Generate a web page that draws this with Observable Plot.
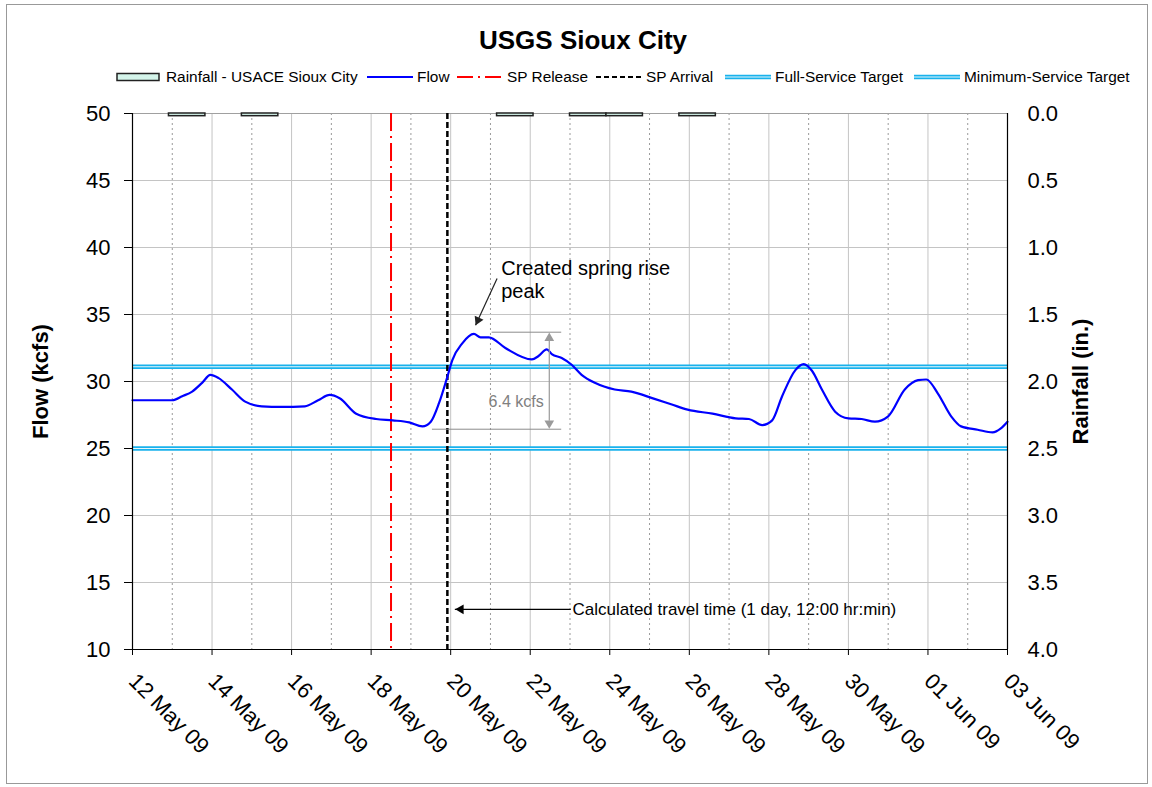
<!DOCTYPE html>
<html><head><meta charset="utf-8">
<script src="https://cdn.jsdelivr.net/npm/d3@7"></script>
<script src="https://cdn.jsdelivr.net/npm/@observablehq/plot@0.6"></script>
<style>
body{margin:0;background:#fff;font-family:"Liberation Sans",Arial,sans-serif;color:#000;}
#wrap{position:relative;width:1152px;height:787px;overflow:hidden;background:#fff;}
#border{position:absolute;left:6px;top:4px;width:1140px;height:778px;border:1px solid #999;pointer-events:none;}
#title{height:55px;box-sizing:border-box;padding-top:25px;padding-left:14px;line-height:30px;text-align:center;font-weight:bold;font-size:26px;}
#legend{position:relative;height:44px;font-size:15.4px;}
.item{position:absolute;top:0;height:44px;display:flex;align-items:center;white-space:nowrap;}
.item svg{margin-right:4px;}
#chart svg{display:block;}
</style></head>
<body>
<div id="wrap">
  <div id="title">USGS Sioux City</div>
  <div id="legend"></div>
  <div id="chart"></div>
  <div id="border"></div>
</div>
<script>
// ---------- data ----------
const flowTimes = [
 "2009-05-12 00:00","2009-05-12 02:00","2009-05-13 00:00","2009-05-13 06:00","2009-05-13 12:00",
 "2009-05-13 18:00","2009-05-13 23:00","2009-05-14 04:00","2009-05-14 12:00","2009-05-14 20:00",
 "2009-05-15 06:00","2009-05-15 18:00","2009-05-16 08:00","2009-05-16 16:00","2009-05-16 23:00",
 "2009-05-17 05:00","2009-05-17 15:00","2009-05-18 03:00","2009-05-18 13:00","2009-05-18 23:00",
 "2009-05-19 07:00","2009-05-19 12:00","2009-05-19 17:00","2009-05-19 22:00","2009-05-20 01:00",
 "2009-05-20 07:00","2009-05-20 14:00","2009-05-20 18:00","2009-05-20 23:00","2009-05-21 09:00",
 "2009-05-22 01:00","2009-05-22 05:00","2009-05-22 10:00","2009-05-22 13:00","2009-05-22 19:00",
 "2009-05-23 01:00","2009-05-23 07:00","2009-05-23 15:00","2009-05-24 03:00","2009-05-24 13:00",
 "2009-05-25 03:00","2009-05-25 13:00","2009-05-25 23:00","2009-05-26 14:00","2009-05-27 04:00",
 "2009-05-27 12:00","2009-05-27 20:00","2009-05-28 02:00","2009-05-28 08:00","2009-05-28 16:00",
 "2009-05-28 21:00","2009-05-29 02:00","2009-05-29 08:00","2009-05-29 16:00","2009-05-30 00:00",
 "2009-05-30 08:00","2009-05-30 16:00","2009-05-31 00:00","2009-05-31 10:00","2009-05-31 18:00",
 "2009-05-31 23:00","2009-06-01 06:00","2009-06-01 14:00","2009-06-01 20:00","2009-06-02 06:00",
 "2009-06-02 15:00","2009-06-02 20:00","2009-06-03 00:00"
];
const flowValues = [
 28.6,28.6,28.6,28.9,29.25,
 29.9,30.5,30.25,29.4,28.5,
 28.15,28.1,28.15,28.6,29.0,
 28.75,27.6,27.2,27.1,26.95,
 26.65,27.0,28.4,30.35,31.6,
 32.85,33.55,33.3,33.3,32.5,
 31.65,31.9,32.4,32.05,31.75,
 31.25,30.5,29.9,29.4,29.25,
 28.7,28.3,27.9,27.6,27.25,
 27.2,26.75,27.1,28.9,30.85,
 31.3,30.8,29.4,27.75,27.25,
 27.2,27.0,27.4,29.4,30.1,
 30.15,29.1,27.4,26.65,26.4,
 26.2,26.5,27.0
];
const rainDates  = ["2009-05-13","2009-05-15","2009-05-22","2009-05-24","2009-05-25","2009-05-27"];
const rainValues = [0.02,0.02,0.02,0.02,0.02,0.02];
const rainCategoryCount = 24; // secondary category axis (daily), 12 May .. 04 Jun

const eventNames = ["SP Release","SP Arrival"];
const eventTimes = ["2009-05-18 12:00","2009-05-19 22:00"];
const targetNames  = ["Full-Service Target","Minimum-Service Target"];
const targetValues = [31.1, 25];

const xTickDates = ["2009-05-12","2009-05-14","2009-05-16","2009-05-18","2009-05-20","2009-05-22",
                    "2009-05-24","2009-05-26","2009-05-28","2009-05-30","2009-06-01","2009-06-03"];
const flowTicks = [10,15,20,25,30,35,40,45,50];
const rainTickLabels = ["4.0","3.5","3.0","2.5","2.0","1.5","1.0","0.5","0.0"];

// annotations (data units)
const peakNote   = {text:"Created spring rise\npeak", date:"2009-05-21 06:30", value:37.63};
const peakArrow  = {from:["2009-05-21 04:00",37.69], to:["2009-05-20 15:00",34.2]};
const rangeTop   = 33.68, rangeBottom = 26.44;
const rangeTopX  = ["2009-05-21 01:00","2009-05-22 19:00"];
const rangeBotX  = ["2009-05-19 13:00","2009-05-22 19:00"];
const rangeArrowX = "2009-05-22 11:30";
const rangeNote  = {text:"6.4 kcfs", date:"2009-05-21 15:30", value:28.5};
const travelNote = {text:"Calculated travel time (1 day, 12:00 hr:min)", date:"2009-05-23 01:30", value:13.0};
const travelArrow = {from:"2009-05-23 00:30", to:"2009-05-20 02:30", value:13.0};

// ---------- derived ----------
const parse = d3.utcParse("%Y-%m-%d %H:%M");
const pDay = s => parse(s + " 00:00");
const flow = flowTimes.map((t,i)=>({date:parse(t), value:flowValues[i]}));
const start = pDay(xTickDates[0]), end = pDay(xTickDates[xTickDates.length-1]);
const DAY = 864e5, span = end - start;
const rainToFlow = r => 50 - r*10; // secondary axis: 0 in at 50 kcfs, 4 in at 10 kcfs
const rain = rainDates.map((d,i)=>{
  const idx = Math.round((pDay(d)-start)/DAY);
  return {x1:new Date(+start + idx*span/rainCategoryCount), x2:new Date(+start+(idx+1)*span/rainCategoryCount), y2:rainToFlow(rainValues[i])};
});
const allDays = d3.utcDay.range(start, new Date(+end+1));
const minorDays = allDays.filter((d,i)=>i%2===1);
const majorDays = allDays.filter((d,i)=>i%2===0 && i>0 && i<allDays.length-1);
const xTicks = xTickDates.map(pDay);
const events = eventTimes.map((t,i)=>({name:eventNames[i], date:parse(t)}));

const font = "Liberation Sans, Arial, sans-serif";
const chart = Plot.plot({
  width:1152, height:688,
  marginLeft:132, marginRight:145, marginTop:14, marginBottom:138,
  style:{fontFamily:font, background:"transparent", color:"#000"},
  x:{type:"utc", domain:[start,end]},
  y:{domain:[10,50]},
  marks:[
    Plot.ruleX(minorDays, {stroke:"#9a9a9a", strokeDasharray:"2,3", strokeWidth:1}),
    Plot.ruleX(majorDays, {stroke:"#c4c4c4", strokeWidth:1}),
    Plot.ruleY(flowTicks.filter(v=>v>10 && v<50), {stroke:"#c4c4c4", strokeWidth:1}),
    Plot.ruleY([50], {stroke:"#a0a0a0", strokeWidth:1}),
    // targets
    Plot.ruleY(targetValues, {stroke:"#19b2ec", strokeWidth:4.5}),
    Plot.ruleY(targetValues, {stroke:"#e6f7fd", strokeWidth:1}),
    // rainfall bars
    Plot.rect(rain, {x1:"x1", x2:"x2", y1:()=>50, y2:"y2", fill:"#d4f4ea", stroke:"#222", strokeWidth:1.5}),
    // SP events
    Plot.ruleX(events.filter(e=>e.name==="SP Release"), {x:"date", stroke:"#ff0000", strokeWidth:2, strokeDasharray:"18,5,2,5"}),
    Plot.ruleX(events.filter(e=>e.name==="SP Arrival"), {x:"date", stroke:"#000", strokeWidth:2.5, strokeDasharray:"6,3"}),
    // flow
    Plot.line(flow, {x:"date", y:"value", stroke:"#0000ff", strokeWidth:2.2, curve:"monotone-x"}),
    // frame
    Plot.ruleX([start], {stroke:"#000", strokeWidth:1.2}),
    Plot.ruleX([end], {stroke:"#000", strokeWidth:1.2}),
    Plot.ruleY([10], {stroke:"#000", strokeWidth:1.2}),
    // peak annotation
    Plot.text([peakNote], {x:d=>parse(d.date), y:"value", text:"text", textAnchor:"start", lineAnchor:"middle", lineHeight:1.15, fontSize:20, fill:"#000"}),
    Plot.link([peakArrow], {x1:d=>parse(d.from[0]), y1:d=>d.from[1], x2:d=>parse(d.to[0]), y2:d=>d.to[1], stroke:"#222", strokeWidth:1.2}),
    Plot.dot([peakArrow], {x:d=>parse(d.to[0]), y:d=>d.to[1], symbol:"triangle", r:3.6, rotate:205, dx:2.4, dy:-5, fill:"#222", stroke:"none"}),
    // range measurement
    Plot.ruleY([rangeTop], {x1:()=>parse(rangeTopX[0]), x2:()=>parse(rangeTopX[1]), stroke:"#8c8c8c", strokeWidth:1}),
    Plot.ruleY([rangeBottom], {x1:()=>parse(rangeBotX[0]), x2:()=>parse(rangeBotX[1]), stroke:"#8c8c8c", strokeWidth:1}),
    Plot.ruleX([parse(rangeArrowX)], {y1:rangeBottom+0.6, y2:rangeTop-0.6, stroke:"#9a9a9a", strokeWidth:1.2}),
    Plot.dot([rangeTop], {x:()=>parse(rangeArrowX), y:d=>d, symbol:"triangle", r:3.6, rotate:0, dy:6, fill:"#9a9a9a", stroke:"none"}),
    Plot.dot([rangeBottom], {x:()=>parse(rangeArrowX), y:d=>d, symbol:"triangle", r:3.6, rotate:180, dy:-6, fill:"#9a9a9a", stroke:"none"}),
    Plot.text([rangeNote], {x:d=>parse(d.date), y:"value", text:"text", textAnchor:"middle", fontSize:16, fill:"#808080"}),
    // travel time
    Plot.link([travelArrow], {x1:d=>parse(d.from), x2:d=>parse(d.to), y1:"value", y2:"value", stroke:"#000", strokeWidth:1.2}),
    Plot.dot([travelArrow], {x:d=>parse(d.to), y:"value", symbol:"triangle", r:3.6, rotate:-90, dx:6, fill:"#000", stroke:"none"}),
    Plot.text([travelNote], {x:d=>parse(d.date), y:"value", text:"text", textAnchor:"start", fontSize:17, fill:"#000"}),
    // axes
    Plot.axisX({ticks:xTicks, tickFormat:d3.utcFormat("%d %b %y"), tickRotate:45, tickSize:6, tickPadding:22, fontSize:22, label:null}),
    Plot.axisY({ticks:flowTicks, tickSize:8, tickPadding:14, fontSize:22, label:null}),
    Plot.axisY({anchor:"right", ticks:flowTicks, tickFormat:d=>rainTickLabels[flowTicks.indexOf(d)], tickSize:0, tickPadding:20, fontSize:22, label:null}),
    Plot.text(["Flow (kcfs)"], {frameAnchor:"left", dx:-92, rotate:-90, text:d=>d, fontSize:22, fontWeight:"bold", textAnchor:"middle"}),
    Plot.text(["Rainfall (in.)"], {frameAnchor:"right", dx:73, rotate:-90, text:d=>d, fontSize:22, fontWeight:"bold", textAnchor:"middle"})
  ]
});
document.getElementById("chart").appendChild(chart);

// ---------- legend ----------
const legendItems = [
  {label:"Rainfall - USACE Sioux City", kind:"rain", left:116},
  {label:"Flow", kind:"flow", left:367},
  {label:eventNames[0], kind:"release", left:457},
  {label:eventNames[1], kind:"arrival", left:596},
  {label:targetNames[0], kind:"target", left:725},
  {label:targetNames[1], kind:"target", left:914}
];
function swatch(kind){
  const w = 46, h = 12, m = 6;
  if (kind==="rain") return `<svg width="${w}" height="${h}"><rect x="1" y="2.5" width="${w-4}" height="7" fill="#d4f4ea" stroke="#222" stroke-width="1.5"/></svg>`;
  if (kind==="flow") return `<svg width="${w}" height="${h}"><line x1="0" x2="${w}" y1="${m}" y2="${m}" stroke="#0000ff" stroke-width="2.2"/></svg>`;
  if (kind==="release") return `<svg width="${w}" height="${h}"><line x1="0" x2="${w}" y1="${m}" y2="${m}" stroke="#ff0000" stroke-width="2" stroke-dasharray="16,5,2,5"/></svg>`;
  if (kind==="arrival") return `<svg width="${w}" height="${h}"><line x1="0" x2="${w}" y1="${m}" y2="${m}" stroke="#000" stroke-width="2" stroke-dasharray="5,3"/></svg>`;
  return `<svg width="${w}" height="${h}"><line x1="0" x2="${w}" y1="${m}" y2="${m}" stroke="#19b2ec" stroke-width="4.5"/><line x1="0" x2="${w}" y1="${m}" y2="${m}" stroke="#e6f7fd" stroke-width="1"/></svg>`;
}
const lg = document.getElementById("legend");
legendItems.forEach(it=>{
  const d = document.createElement("div");
  d.className = "item";
  d.style.left = it.left + "px";
  d.innerHTML = swatch(it.kind) + `<span>${it.label}</span>`;
  lg.appendChild(d);
});
</script>
</body></html>
